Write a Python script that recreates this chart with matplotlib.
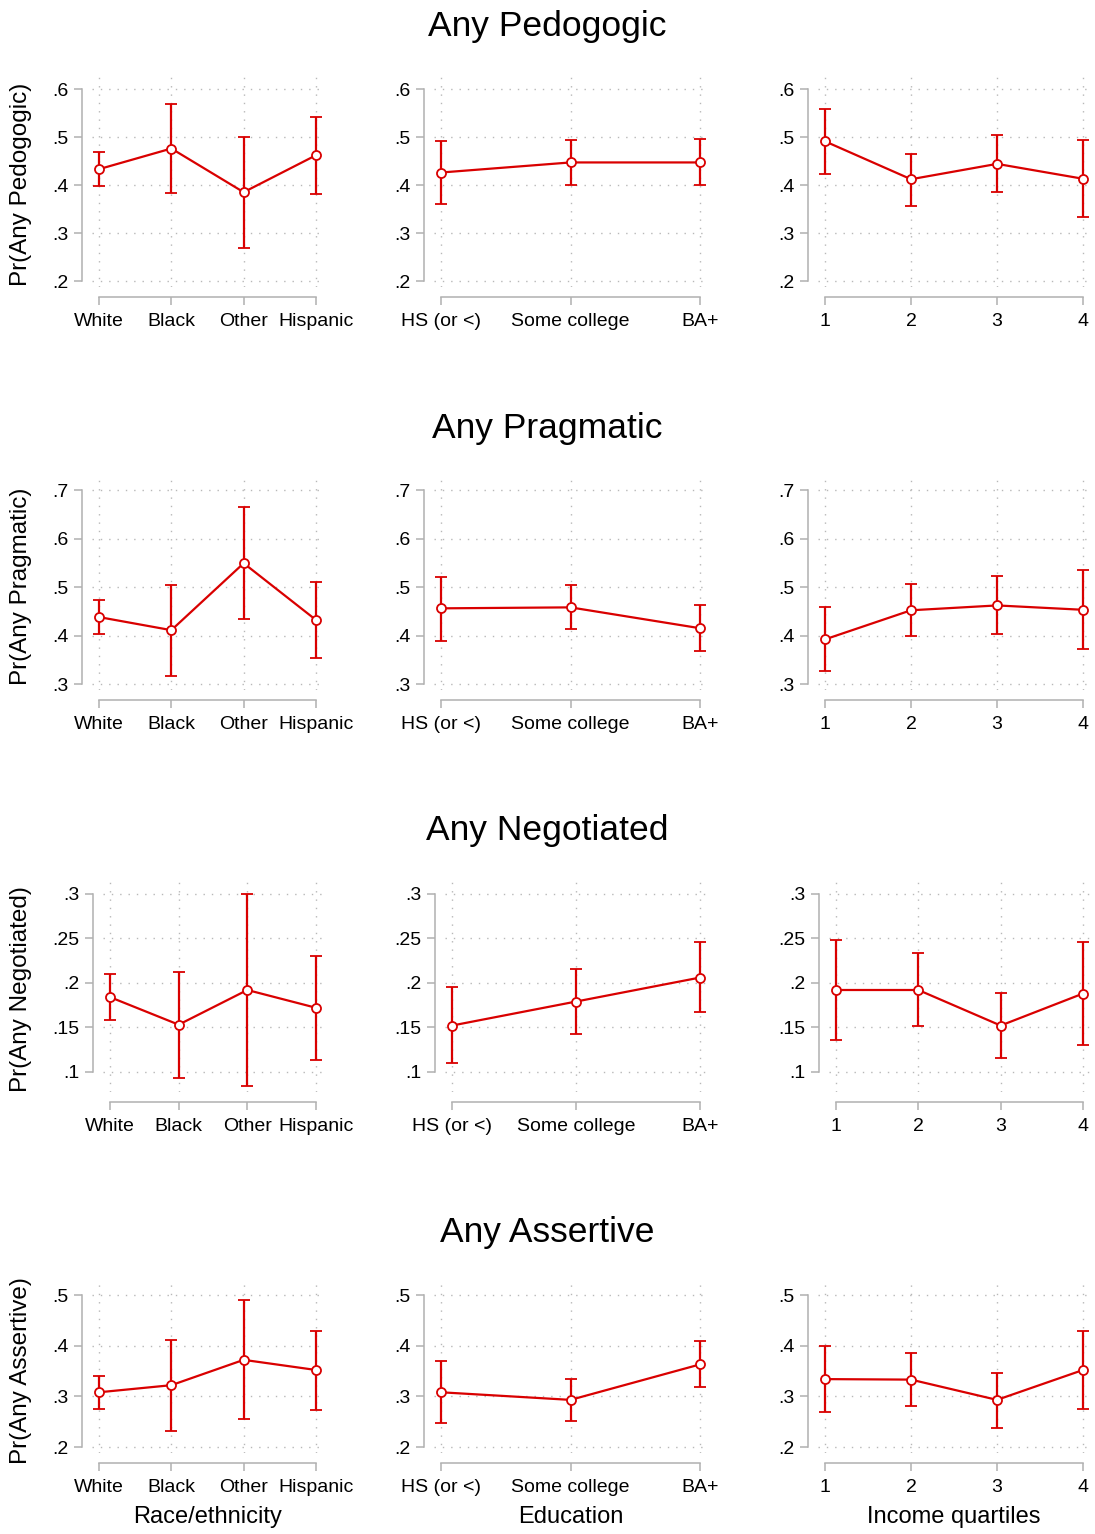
import matplotlib
matplotlib.use("Agg")
import matplotlib.pyplot as plt
import numpy as np

# ---- data ----
race_labels = ["White", "Black", "Other", "Hispanic"]
educ_labels = ["HS (or <)", "Some college", "BA+"]
income_labels = ["1", "2", "3", "4"]

# Pr(Any Pedogogic)
ped_race = [0.433, 0.476, 0.385, 0.462]
ped_race_lo = [0.397, 0.383, 0.269, 0.382]
ped_race_hi = [0.468, 0.569, 0.501, 0.542]
ped_educ = [0.426, 0.447, 0.447]
ped_educ_lo = [0.360, 0.401, 0.400]
ped_educ_hi = [0.492, 0.493, 0.495]
ped_inc = [0.491, 0.412, 0.444, 0.413]
ped_inc_lo = [0.422, 0.357, 0.385, 0.334]
ped_inc_hi = [0.559, 0.465, 0.504, 0.494]
ped_ticks = [0.2, 0.3, 0.4, 0.5, 0.6]

# Pr(Any Pragmatic)
prag_race = [0.438, 0.411, 0.549, 0.432]
prag_race_lo = [0.403, 0.317, 0.435, 0.353]
prag_race_hi = [0.473, 0.505, 0.665, 0.511]
prag_educ = [0.456, 0.458, 0.415]
prag_educ_lo = [0.389, 0.413, 0.369]
prag_educ_hi = [0.521, 0.504, 0.463]
prag_inc = [0.392, 0.452, 0.462, 0.453]
prag_inc_lo = [0.327, 0.398, 0.403, 0.372]
prag_inc_hi = [0.459, 0.507, 0.522, 0.535]
prag_ticks = [0.3, 0.4, 0.5, 0.6, 0.7]

# Pr(Any Negotiated)
neg_race = [0.184, 0.153, 0.192, 0.172]
neg_race_lo = [0.158, 0.093, 0.084, 0.113]
neg_race_hi = [0.210, 0.212, 0.300, 0.230]
neg_educ = [0.152, 0.179, 0.206]
neg_educ_lo = [0.110, 0.143, 0.167]
neg_educ_hi = [0.195, 0.216, 0.246]
neg_inc = [0.192, 0.192, 0.152, 0.188]
neg_inc_lo = [0.136, 0.151, 0.116, 0.130]
neg_inc_hi = [0.248, 0.234, 0.189, 0.246]
neg_ticks = [0.1, 0.15, 0.2, 0.25, 0.3]

# Pr(Any Assertive)
ass_race = [0.308, 0.322, 0.372, 0.352]
ass_race_lo = [0.275, 0.232, 0.256, 0.274]
ass_race_hi = [0.341, 0.411, 0.490, 0.429]
ass_educ = [0.308, 0.293, 0.363]
ass_educ_lo = [0.247, 0.251, 0.318]
ass_educ_hi = [0.370, 0.335, 0.410]
ass_inc = [0.334, 0.333, 0.293, 0.352]
ass_inc_lo = [0.269, 0.281, 0.238, 0.275]
ass_inc_hi = [0.400, 0.386, 0.346, 0.429]
ass_ticks = [0.2, 0.3, 0.4, 0.5]

outcome_names = ["Pedogogic", "Pragmatic", "Negotiated", "Assertive"]
factor_titles = ["Race/ethnicity", "Education", "Income quartiles"]

rows = [
    (ped_ticks, [(race_labels, ped_race, ped_race_lo, ped_race_hi),
                 (educ_labels, ped_educ, ped_educ_lo, ped_educ_hi),
                 (income_labels, ped_inc, ped_inc_lo, ped_inc_hi)]),
    (prag_ticks, [(race_labels, prag_race, prag_race_lo, prag_race_hi),
                  (educ_labels, prag_educ, prag_educ_lo, prag_educ_hi),
                  (income_labels, prag_inc, prag_inc_lo, prag_inc_hi)]),
    (neg_ticks, [(race_labels, neg_race, neg_race_lo, neg_race_hi),
                 (educ_labels, neg_educ, neg_educ_lo, neg_educ_hi),
                 (income_labels, neg_inc, neg_inc_lo, neg_inc_hi)]),
    (ass_ticks, [(race_labels, ass_race, ass_race_lo, ass_race_hi),
                 (educ_labels, ass_educ, ass_educ_lo, ass_educ_hi),
                 (income_labels, ass_inc, ass_inc_lo, ass_inc_hi)]),
]

# ---- layout (pixels) ----
FIG_W, FIG_H = 1095, 1534
ROW_TOP = [76, 477, 881, 1282]
ROW_BOTTOM = [287, 690, 1092, 1453]
TITLE_BASE = [36, 438, 840, 1242]
COL_LEFT = [92, 434, 818]
COL_RIGHT = [323, 707, 1090]

RED = "#d90000"
AXIS_GRAY = "#b0b0b0"
GRID_GRAY = "#b8b8b8"

plt.rcParams["font.family"] = ["Liberation Sans", "DejaVu Sans"]
plt.rcParams["lines.scale_dashes"] = False


def tick_fmt(v):
    return ("%g" % v).lstrip("0")


def px_axes(fig, left, top, right, bottom):
    return fig.add_axes([left / FIG_W, 1 - bottom / FIG_H,
                         (right - left) / FIG_W, (bottom - top) / FIG_H])


fig = plt.figure(figsize=(FIG_W / 100, FIG_H / 100), dpi=100)

for r, (yticks, panels) in enumerate(rows):
    top, bottom = ROW_TOP[r], ROW_BOTTOM[r]
    h = bottom - top
    # common y range across the row
    lo = min(yticks[0], min(min(p[2]) for p in panels))
    hi = max(yticks[-1], max(max(p[3]) for p in panels))
    scale = (h - 19) / (hi - lo)
    ylim = (lo - 6 / scale, hi + 13 / scale)
    # two-decimal tick labels push the plot area right
    shift = 11 if any(len(tick_fmt(t)) > 2 for t in yticks) else 0

    for c, (labels, est, ci_lo, ci_hi) in enumerate(panels):
        left, right = COL_LEFT[c] + shift, COL_RIGHT[c]
        ax = px_axes(fig, left, top, right, bottom)
        n = len(labels)
        spacing = (right - left - 14) / (n - 1)
        pad = 7 / spacing
        x = np.arange(n)
        est = np.array(est)
        yerr = [est - np.array(ci_lo), np.array(ci_hi) - est]

        ax.errorbar(x, est, yerr=yerr, fmt="-o", color=RED, lw=1.6,
                    elinewidth=1.6, capsize=4, capthick=1.6,
                    markersize=6.5, mfc="white", mec=RED, mew=1.3)

        ax.set_xlim(-pad, n - 1 + pad)
        ax.set_ylim(*ylim)
        ax.set_xticks(x)
        ax.set_xticklabels(labels)
        ax.set_yticks(yticks)
        ax.set_yticklabels([tick_fmt(t) for t in yticks])

        ax.grid(True, linestyle=(0, (1.0, 5.0)), color=GRID_GRAY, lw=1.0)
        ax.set_axisbelow(True)

        for side in ["top", "right"]:
            ax.spines[side].set_visible(False)
        for side in ["left", "bottom"]:
            ax.spines[side].set_position(("outward", 7))
            ax.spines[side].set_color(AXIS_GRAY)
            ax.spines[side].set_linewidth(1.1)
        ax.spines["left"].set_bounds(yticks[0], yticks[-1])
        ax.spines["bottom"].set_bounds(0, n - 1)

        ax.tick_params(axis="both", length=6, width=1.1, color=AXIS_GRAY,
                       labelsize=14, labelcolor="black")
        ax.tick_params(axis="x", pad=6)
        ax.tick_params(axis="y", pad=4)

        if r == len(rows) - 1:
            ax.set_xlabel(factor_titles[c], fontsize=17, labelpad=7)

    # row title and y-axis title
    fig.text(0.5, 1 - TITLE_BASE[r] / FIG_H, "Any " + outcome_names[r],
             ha="center", va="baseline", fontsize=25.5)
    fig.text(21 / FIG_W, 1 - (top + bottom + 6) / 2 / FIG_H,
             "Pr(Any " + outcome_names[r] + ")", rotation=90,
             ha="center", va="center", fontsize=17.5)

fig.savefig("out.png", dpi=100, facecolor="white")
